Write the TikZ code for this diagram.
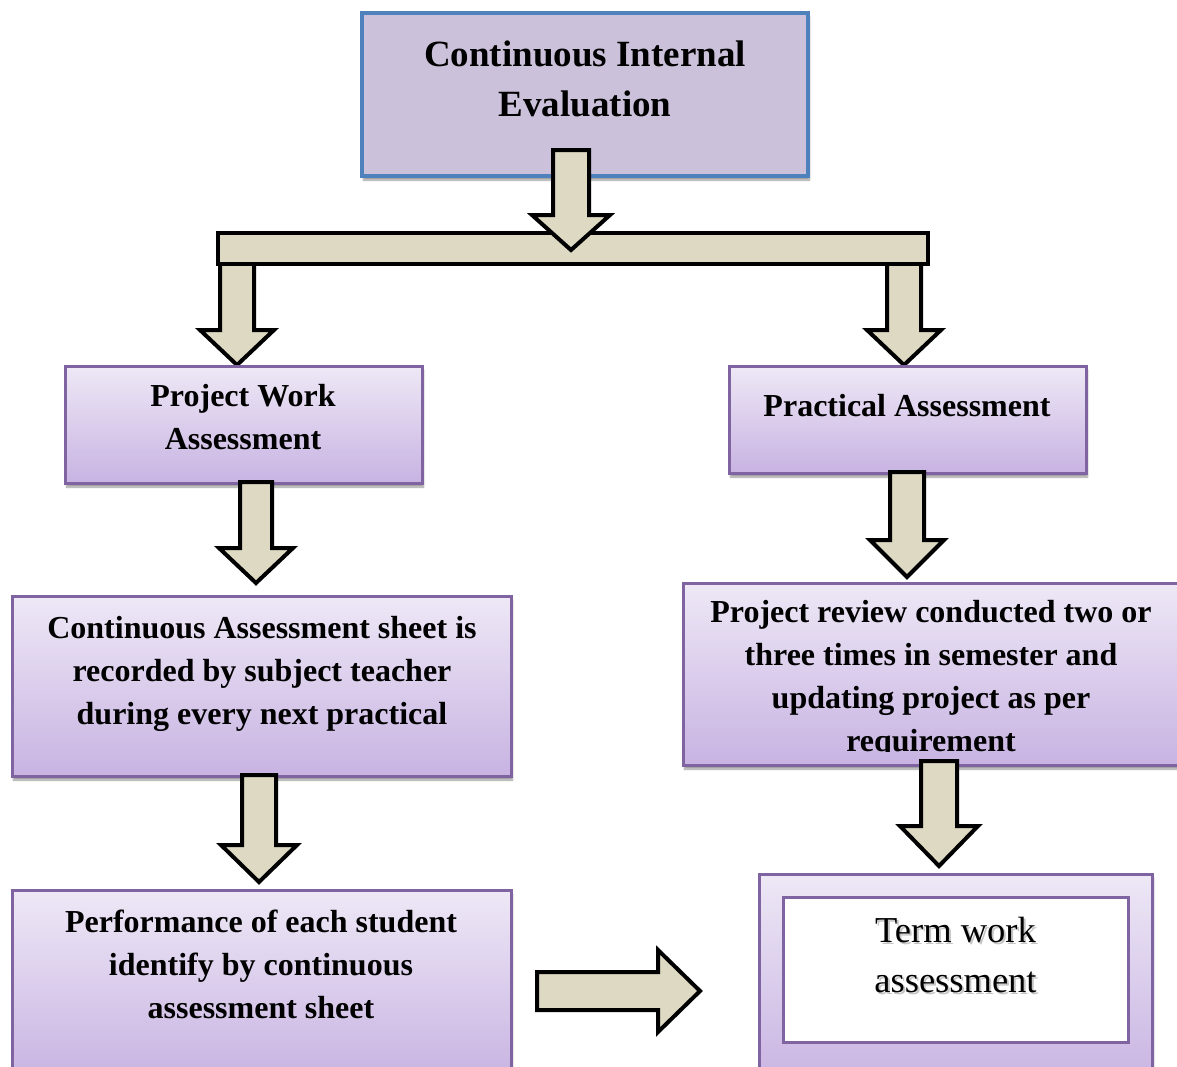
\documentclass[tikz,border=0pt]{standalone}
\usepackage{fontspec}
\setmainfont{Liberation Serif}
\usetikzlibrary{shadows.blur}

\definecolor{boxtop}{HTML}{EEE8F6}
\definecolor{boxbot}{HTML}{C8B3E2}
\definecolor{boxline}{HTML}{8064A2}
\definecolor{ciefill}{HTML}{CCC1DA}
\definecolor{cieline}{HTML}{4F81BD}
\definecolor{arrowfill}{HTML}{DDD9C3}

\tikzset{
  softshadow/.style={blur shadow={shadow xshift=1.5pt, shadow yshift=-4pt, shadow opacity=40, shadow blur steps=6}},
  gbox/.style={draw=boxline, line width=3pt, top color=boxtop, bottom color=boxbot, softshadow, inner sep=0pt},
  ciebox/.style={draw=cieline, line width=4pt, fill=ciefill, softshadow, inner sep=0pt},
  wbox/.style={draw=boxline, line width=3pt, fill=white, inner sep=0pt},
  barrow/.style={draw=black, line width=4pt, fill=arrowfill, line join=miter},
  btext/.style={anchor=base, align=center, inner sep=0pt, font=\fontsize{32}{43}\selectfont\bfseries},
  ttext/.style={anchor=base, align=center, inner sep=0pt, font=\fontsize{37}{50}\selectfont\bfseries},
  rtext/.style={anchor=base, align=center, inner sep=0pt, font=\fontsize{36.5}{50}\selectfont},
}

% cx, shaft half width, head half width, y top, y neck, y tip
\newcommand\blockdown[6]{%
  \draw[barrow] ({#1-#2},#4) -- ({#1-#2},#5) -- ({#1-#3},#5) -- (#1,#6)
    -- ({#1+#3},#5) -- ({#1+#2},#5) -- ({#1+#2},#4) -- cycle;}

\begin{document}
\begin{tikzpicture}[x=1pt,y=-1pt]
\useasboundingbox (0,0) rectangle (1177,1066);
\clip (0,0) rectangle (1177,1066);

% top box
\node[ciebox, minimum width=446pt, minimum height=163pt] (cie) at (585,94.5) {};
\node[ttext] (cietxt) at (585,116) {Continuous Internal\\Evaluation};

% branch arrows (below bar)
\blockdown{237}{17}{37}{250}{330}{365}
\blockdown{904}{17}{37}{250}{330}{365}

% bar
\node[barrow, minimum width=710pt, minimum height=31pt, inner sep=0pt] (bar) at (573,248.5) {};

% top arrow
\blockdown{571}{18}{39}{150}{215}{250}

% second level boxes
\node[gbox, minimum width=357pt, minimum height=117pt] (pwa) at (243.5,424.5) {};
\node[btext] (pwatxt) at (243,449) {Project Work\\Assessment};

\node[gbox, minimum width=357pt, minimum height=107pt] (pa) at (907.5,419.5) {};
\node[btext] (patxt) at (907,416) {Practical Assessment};

\blockdown{256}{16}{37}{482}{548}{583}
\blockdown{907}{17}{37}{472}{540}{577}

% third level boxes
\node[gbox, minimum width=499pt, minimum height=180pt] (cas) at (261.5,686) {};
\node[btext] (castxt) at (262,724) {Continuous Assessment sheet is\\recorded by subject teacher\\during every next practical};

\node[gbox, minimum width=502pt, minimum height=182pt] (pr) at (934,674) {};
\begin{scope}
  \clip (683,583) rectangle (1177,751.5);
  \node[btext] (prtxt) at (931,751) {Project review conducted two or\\three times in semester and\\updating project as per\\requirement};
\end{scope}

\blockdown{259}{17}{38}{775}{845}{882}
\blockdown{939}{18}{39}{761}{826}{866}

% bottom boxes
\node[gbox, minimum width=499pt, minimum height=190pt] (perf) at (261.5,985) {};
\node[btext] (perftxt) at (261,1018) {Performance of each student\\identify by continuous\\assessment sheet};

\node[gbox, minimum width=393pt, minimum height=211pt] (term) at (955.5,979.5) {};
\node[wbox, minimum width=345pt, minimum height=145pt] (terminner) at (955.5,969.5) {};
\node[rtext, text=black!45, opacity=0.5] (termshadow) at (957.5,994.5) {Term work\\assessment};
\node[rtext] (termtxt) at (955.5,992) {Term work\\assessment};

% right arrow
\coordinate (rs) at (537,991);
\coordinate (rt) at (700,991);
\draw[barrow] (rs) ++(0,-19) -- (658,972) -- (658,950) -- (rt) -- (658,1032) -- (658,1010) -- (537,1010) -- cycle;

\end{tikzpicture}
\end{document}
